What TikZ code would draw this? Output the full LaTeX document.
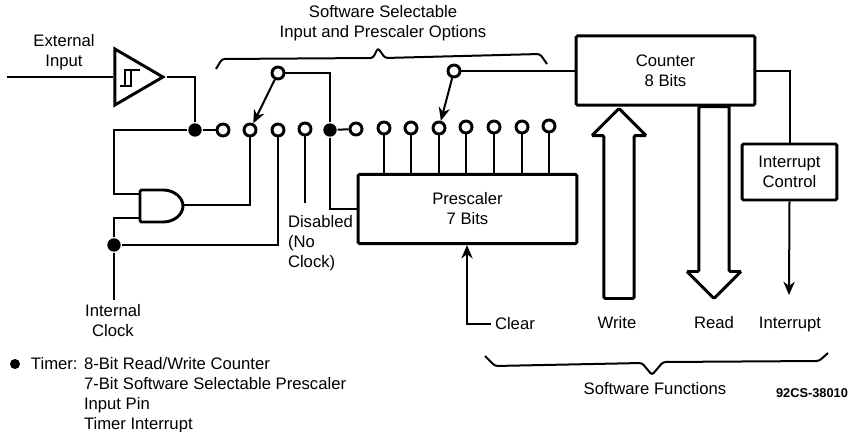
\documentclass[tikz,border=0pt]{standalone}
\usepackage{fontspec}
\setmainfont{Liberation Sans}
\usetikzlibrary{positioning,arrows.meta,calc,shapes.geometric,shapes.arrows}
\begin{document}
\begin{tikzpicture}[x=.75pt,y=-.75pt,line width=1.5pt,>={Stealth[length=10pt,width=8.5pt]}]
\tikzstyle{lbl}=[align=center,inner sep=0pt,font=\fontsize{12.5}{15}\selectfont]
\tikzstyle{block}=[draw,line width=2.2pt,rounded corners=1pt,lbl]
\tikzstyle{tap}=[circle,draw,line width=2.2pt,fill=white,inner sep=0pt,minimum size=9pt]
\tikzstyle{junction}=[circle,fill=black,inner sep=0pt,minimum size=10pt]
\tikzstyle{bigarrow}=[single arrow,draw,line width=2.2pt,rounded corners=1pt,inner sep=10.2pt,single arrow head extend=9pt,single arrow head indent=0pt]
\useasboundingbox (0,0) rectangle (850,432);
\node[lbl] (extlbl) at (64,52) {External\\Input};
\node[lbl] (optlbl) at (383,23.5) {Software Selectable\\Input and Prescaler Options};
\node[lbl,anchor=north] (intlbl) at (113,303) {Internal\\Clock};
\node[lbl,align=left,anchor=north west] (dislbl) at (287,214) {Disabled\\(No\\Clock)};
\node[lbl] (writelbl) at (617,323) {Write};
\node[lbl] (readlbl) at (714,323) {Read};
\node[lbl] (irqlbl) at (790,324) {Interrupt};
\node[lbl,anchor=west] (clearlbl) at (494,324) {Clear};
\node[lbl] (swlbl) at (655,389) {Software Functions};
\node[inner sep=0pt,font=\fontsize{9.6}{12}\selectfont\bfseries] (partlbl) at (812,393) {92CS-38010};
\node[block,minimum width=134pt,minimum height=52pt] (counter) at (665.5,70.5) {Counter\\8 Bits};
\node[block,minimum width=164pt,minimum height=52pt] (prescaler) at (467.5,209) {Prescaler\\7 Bits};
\node[block,minimum width=71pt,minimum height=42pt] (irqctl) at (789.5,172) {Interrupt\\Control};
\node[draw,line width=2.2pt,isosceles triangle,isosceles triangle stretches,inner sep=0pt,minimum width=42pt,minimum height=36pt] (schmitt) at (131,77) {};
\node[junction] (juncin) at (195,130) {};
\node[junction] (juncpre) at (330,130) {};
\node[junction] (juncclk) at (114,245) {};
\node[tap] (ta) at (223,130) {};
\node[tap] (tb) at (250,130) {};
\node[tap] (tc) at (278,130) {};
\node[tap] (td) at (305,129) {};
\node[tap] (pa) at (356,129) {};
\node[tap] (pb) at (384,128) {};
\node[tap] (pc) at (411,128) {};
\node[tap] (pd) at (439,128) {};
\node[tap] (pe) at (466,127) {};
\node[tap] (pf) at (494,127) {};
\node[tap] (pg) at (522,127) {};
\node[tap] (ph) at (549,126) {};
\node[tap] (swa) at (278,73) {};
\node[tap] (swb) at (454,71) {};
\coordinate (extin) at (7,77);
\coordinate (clkin) at (114,300);
\coordinate (clear) at (491,324);
\coordinate (disend) at (305,203);
\coordinate (irqout) at (789,295);
\coordinate (gatea) at (140,194);
\coordinate (gateb) at (140,218);
\coordinate (gateout) at (183,205);
\draw[line width=2.2pt,rounded corners=1pt] (140,190) -- (162,190) arc (-90:90:21 and 16) -- (140,222) -- cycle;
\draw (extin) -- (schmitt.west |- extin);
\draw (schmitt.apex) -| (juncin);
\draw (juncin) -- (ta);
\draw (juncin) -| (114,194) -- (gatea);
\draw (juncclk) |- (gateb);
\draw (juncclk) -- (clkin);
\draw (gateout) -| (tb);
\draw (juncclk) -| (tc);
\draw (td) -- (disend);
\draw (swa) -| (juncpre);
\draw (juncpre) -- (pa);
\draw (juncpre) |- (prescaler.west);
\draw (pb) -- (pb |- prescaler.north);
\draw (pc) -- (pc |- prescaler.north);
\draw (pd) -- (pd |- prescaler.north);
\draw (pe) -- (pe |- prescaler.north);
\draw (pf) -- (pf |- prescaler.north);
\draw (pg) -- (pg |- prescaler.north);
\draw (ph) -- (ph |- prescaler.north);
\draw[->] (swa) -- (tb);
\draw[->] (swb) -- (pd);
\draw (swb) -- (swb -| counter.west);
\draw (counter.east) -| (irqctl.north);
\draw[->] (irqctl.south) -- (irqout);
\draw[->] (clear) -| (prescaler.south -| 467,0);
\draw (120,86) -- (131,86) -- (131,70) (125,86) -- (125,70) -- (140,70);
\node[bigarrow,shape border rotate=90,minimum height=142.5pt] (writearrow) at (619,211) {};
\node[bigarrow,shape border rotate=270,minimum height=144pt] (readarrow) at (714,195) {};
\draw[rounded corners=2pt] (216,69) -- (222,59) -- (373,58) -- (378,48) -- (385,58) -- (540,54) -- (547,64);
\draw[rounded corners=2pt] (485,356) -- (495,366) -- (642,363) -- (652,375) -- (663,362) -- (819,361) -- (828,353);
\node[circle,fill=black,inner sep=0pt,minimum size=7.5pt] (bullet) at (15,364) {};
\node[lbl,anchor=west] (timerlbl) at (30,364) {Timer:};
\node[lbl,align=left,anchor=north west] (timerlist) at (83,356) {8-Bit Read/Write Counter\\7-Bit Software Selectable Prescaler\\Input Pin\\Timer Interrupt};
\end{tikzpicture}
\end{document}
